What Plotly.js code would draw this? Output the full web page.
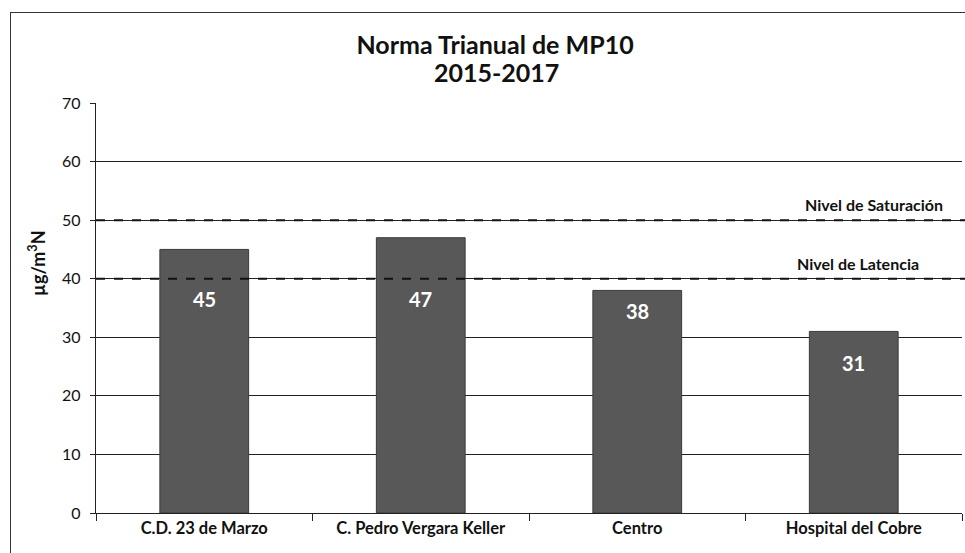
<!DOCTYPE html>
<html>
<head>
<meta charset="utf-8">
<script src="https://cdn.plot.ly/plotly-3.0.1.min.js"></script>
<style>
  html, body { margin: 0; padding: 0; background: #fff; }
  #wrap { position: relative; width: 965px; height: 553px; overflow: hidden; }
  #chart { position: absolute; left: 0; top: 0; width: 965px; height: 553px; }
  #frame { position: absolute; left: 10px; top: 12px; right: -2px; bottom: -2px;
           border-left: 1.5px solid #333; border-top: 1.5px solid #333; pointer-events: none; }
</style>
</head>
<body>
<div id="wrap">
  <div id="chart"></div>
  <div id="frame"></div>
</div>
<script>
// ---- data ----
const stations = ["C.D. 23 de Marzo", "C. Pedro Vergara Keller", "Centro", "Hospital del Cobre"];
const mp10Values = [45, 47, 38, 31];
const limitNames = ["Nivel de Saturación", "Nivel de Latencia"];
const limitValues = [50, 40];
const yTicks = [0, 10, 20, 30, 40, 50, 60, 70];
const titleLines = ["Norma Trianual de MP10", "2015-2017"];
const yTitle = "µg/m<sup>3</sup>N";

// ---- style ----
const FONT = "Lato, 'Open Sans', sans-serif";
const labelDrop = [50, 61, 21, 32]; // px offset of value labels below bar tops
const limitLabelX = [0.98, 0.953];   // right edges of limit labels (paper)

const barTrace = {
  type: "bar",
  x: stations,
  y: mp10Values,
  marker: { color: "#585858", line: { color: "#3a3a3a", width: 1 } },
  width: 0.41,
  hoverinfo: "x+y",
  showlegend: false
};

const shapes = limitValues.map(v => ({
  type: "line", xref: "paper", yref: "y",
  x0: 0, x1: 1.01, y0: v, y1: v,
  line: { color: "#111", width: 2, dash: "dash" },
  layer: "above"
}));

const annotations = [];
limitValues.forEach((v, i) => {
  annotations.push({
    xref: "paper", yref: "y", x: limitLabelX[i], y: v,
    yanchor: "bottom", yshift: 4, xanchor: "right",
    text: "<b>" + limitNames[i] + "</b>", showarrow: false,
    font: { family: FONT, size: 16, color: "#111" }
  });
});
mp10Values.forEach((v, i) => {
  annotations.push({
    xref: "x", yref: "y", x: stations[i], y: v,
    yanchor: "middle", yshift: -labelDrop[i],
    text: "<b>" + v + "</b>", showarrow: false,
    font: { family: FONT, size: 20, color: "#ffffff" }
  });
});
// second title line
annotations.push({
  xref: "paper", yref: "paper", x: 0.462, y: (513 - 72) / 410,
  xanchor: "center", yanchor: "middle", showarrow: false,
  text: "<b>" + titleLines[1] + "</b>",
  font: { family: FONT, size: 25, color: "#111" }
});
// y-axis title
annotations.push({
  xref: "paper", yref: "paper", x: -59 / 866, y: (513 - 263) / 410,
  xanchor: "center", yanchor: "middle", showarrow: false, textangle: -90,
  text: "<b>" + yTitle + "</b>",
  font: { family: FONT, size: 18, color: "#111" }
});

const layout = {
  width: 965, height: 553,
  margin: { l: 96, r: 3, t: 103, b: 40 },
  paper_bgcolor: "#ffffff", plot_bgcolor: "#ffffff",
  font: { family: FONT, color: "#111" },
  title: {
    text: "<b>" + titleLines[0] + "</b>",
    x: 0.513, xanchor: "center", yref: "container", y: 1 - 45 / 553, yanchor: "middle",
    font: { family: FONT, size: 25, color: "#111" }
  },
  xaxis: {
    type: "category",
    showline: true, linecolor: "#222", linewidth: 1.2,
    ticks: "outside", tickson: "boundaries", ticklen: 7, tickcolor: "#222",
    tickfont: { family: FONT, size: 16.5, color: "#111" },
    tickprefix: "<b>", ticksuffix: "</b>",
    showgrid: false, zeroline: false, fixedrange: true
  },
  yaxis: {
    range: [0, 70], tickvals: yTicks,
    showline: true, linecolor: "#222", linewidth: 1.2,
    ticks: "outside", ticklen: 5, tickcolor: "#222",
    ticklabelstandoff: 6,
    showgrid: true, gridcolor: "#222", gridwidth: 1,
    zeroline: false,
    tickfont: { family: FONT, size: 16, color: "#111" },
    tickprefix: "<b>", ticksuffix: "</b>",
    fixedrange: true
  },
  shapes: shapes,
  annotations: annotations,
  bargap: 0.59
};

Plotly.newPlot("chart", [barTrace], layout, { displayModeBar: false, staticPlot: true });
</script>
</body>
</html>
